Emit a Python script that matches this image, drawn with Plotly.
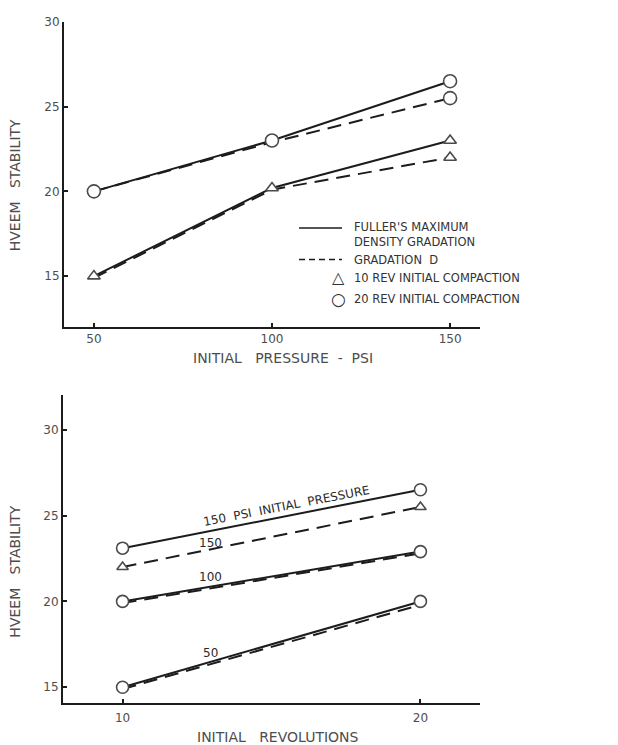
import plotly.graph_objects as go

# ---------------- data ----------------
pressures = [50, 100, 150]
top_fuller_10rev = [15.0, 20.2, 23.0]
top_gradD_10rev = [14.9, 20.1, 22.0]
top_fuller_20rev = [20.0, 23.0, 26.5]
top_gradD_20rev = [20.0, 22.9, 25.5]

revolutions = [10, 20]
bot_fuller_150 = [23.1, 26.5]
bot_gradD_150 = [22.0, 25.5]
bot_fuller_100 = [20.0, 22.9]
bot_gradD_100 = [19.9, 22.8]
bot_fuller_50 = [15.0, 20.0]
bot_gradD_50 = [14.9, 19.8]

top_xticks = [50, 100, 150]
top_yticks = [15, 20, 25, 30]
bot_xticks = [10, 20]
bot_yticks = [15, 20, 25, 30]

# ---------------- style ----------------
W, H = 618, 745
LINE = "#1c1c1c"
MK = "#4a4a4a"
TXT = "#4d4d4d"
FONT = "DejaVu Sans"
DASH = "14px,8px"

def px(x):
    return x / W

def py(y):
    return (H - y) / H

fig = go.Figure()

def line(xs, ys, dash, xa, ya):
    fig.add_trace(go.Scatter(
        x=xs, y=ys, mode="lines", xaxis=xa, yaxis=ya,
        line=dict(color=LINE, width=2, dash=dash),
        showlegend=False, hoverinfo="skip"))

def marks(xs, ys, symbol, xa, ya, size):
    fig.add_trace(go.Scatter(
        x=xs, y=ys, mode="markers", xaxis=xa, yaxis=ya,
        marker=dict(symbol=symbol, size=size, color="white",
                    line=dict(color=MK, width=1.6)),
        showlegend=False, hoverinfo="skip"))

# top chart lines
line(pressures, top_fuller_10rev, "solid", "x", "y")
line(pressures, top_gradD_10rev, DASH, "x", "y")
line(pressures, top_fuller_20rev, "solid", "x", "y")
line(pressures, top_gradD_20rev, DASH, "x", "y")
# top chart markers (dashed series share the solid markers except at 150 psi)
marks(pressures, top_fuller_10rev, "triangle-up", "x", "y", 11)
marks(pressures[-1:], top_gradD_10rev[-1:], "triangle-up", "x", "y", 11)
marks(pressures, top_fuller_20rev, "circle", "x", "y", 13)
marks(pressures[-1:], top_gradD_20rev[-1:], "circle", "x", "y", 13)

# bottom chart lines
line(revolutions, bot_gradD_50, DASH, "x2", "y2")
line(revolutions, bot_fuller_50, "solid", "x2", "y2")
line(revolutions, bot_gradD_100, DASH, "x2", "y2")
line(revolutions, bot_fuller_100, "solid", "x2", "y2")
line(revolutions, bot_gradD_150, DASH, "x2", "y2")
line(revolutions, bot_fuller_150, "solid", "x2", "y2")
# bottom chart markers
marks(revolutions, bot_fuller_50, "circle", "x2", "y2", 12)
marks(revolutions, bot_fuller_100, "circle", "x2", "y2", 12)
marks(revolutions, bot_fuller_150, "circle", "x2", "y2", 12)
marks(revolutions, bot_gradD_150, "triangle-up", "x2", "y2", 10)

axis_common = dict(showline=True, linecolor=LINE, linewidth=2, showgrid=False,
                   zeroline=False, ticks="inside", ticklen=4, tickwidth=1.5,
                   tickcolor=LINE, mirror=False,
                   tickfont=dict(family=FONT, size=12, color=TXT))

fig.update_layout(
    width=W, height=H,
    margin=dict(l=0, r=0, t=0, b=0),
    paper_bgcolor="white", plot_bgcolor="white",
    xaxis=dict(domain=[px(64), px(480)], range=[41.6, 158.4],
               tickvals=top_xticks, anchor="y", ticklabelstandoff=0,
               **axis_common),
    yaxis=dict(domain=[py(323), py(15)], range=[12.0, 30.0],
               tickvals=top_yticks, anchor="x", ticklabelstandoff=0,
               **axis_common),
    xaxis2=dict(domain=[px(63), px(480)], range=[8.0, 22.0],
                tickvals=bot_xticks, anchor="y2", ticklabelstandoff=3,
                **axis_common),
    yaxis2=dict(domain=[py(702.7), py(392)], range=[14.08, 32.0],
                tickvals=bot_yticks, anchor="x2", ticklabelstandoff=0,
                **axis_common),
)

def pann(text, x, y, size, angle=0, xanchor="center", color=TXT, align="center"):
    return dict(text=text, x=px(x), y=py(y), xref="paper", yref="paper",
                xanchor=xanchor, yanchor="middle", textangle=angle, align=align,
                showarrow=False, font=dict(family=FONT, size=size, color=color))

ann = []
# axis titles
ann.append(pann("HVEEM   STABILITY", 15, 180, 14, angle=-90))
ann.append(pann("INITIAL   PRESSURE  -  PSI", 283, 354, 14))
ann.append(pann("HVEEM   STABILITY", 15, 570, 14, angle=-90))
ann.append(pann("INITIAL   REVOLUTIONS", 278, 737, 14))

# legend (top chart)
LC = "#333333"
ann.append(pann("FULLER'S MAXIMUM<br>DENSITY GRADATION", 352, 230, 11.5, xanchor="left",
                color=LC, align="left"))
ann.append(pann("GRADATION  D", 352, 255, 11.5, xanchor="left", color=LC))
ann.append(pann("10 REV INITIAL COMPACTION", 352, 274, 11.5, xanchor="left", color=LC))
ann.append(pann("20 REV INITIAL COMPACTION", 352, 295, 11.5, xanchor="left", color=LC))
ann.append(pann("△", 338, 273, 16, color=LC))
ann.append(pann("○", 338, 295, 17, color=LC))

# bottom chart line labels
BF = dict(family=FONT, size=12, color="#2a2a2a")
ann.append(dict(text="150  PSI  INITIAL  PRESSURE", x=15.5, y=24.97, xref="x2", yref="y2",
                textangle=-11, yshift=10, showarrow=False, font=BF))
ann.append(dict(text="150", x=12.95, y=23.0, xref="x2", yref="y2",
                yshift=7, showarrow=False, font=BF))
ann.append(dict(text="100", x=12.95, y=20.9, xref="x2", yref="y2",
                yshift=9, showarrow=False, font=BF))
ann.append(dict(text="50", x=12.95, y=16.4, xref="x2", yref="y2",
                yshift=10, showarrow=False, font=BF))

fig.update_layout(annotations=ann)

shapes = [
    dict(type="line", xref="paper", yref="paper", x0=px(299), x1=px(342), y0=py(223), y1=py(223),
         line=dict(color=LINE, width=1.5)),
    dict(type="line", xref="paper", yref="paper", x0=px(299), x1=px(342), y0=py(255), y1=py(255),
         line=dict(color=LINE, width=1.5, dash="6px,4px")),
]
fig.update_layout(shapes=shapes)

fig.write_html("out.html")
